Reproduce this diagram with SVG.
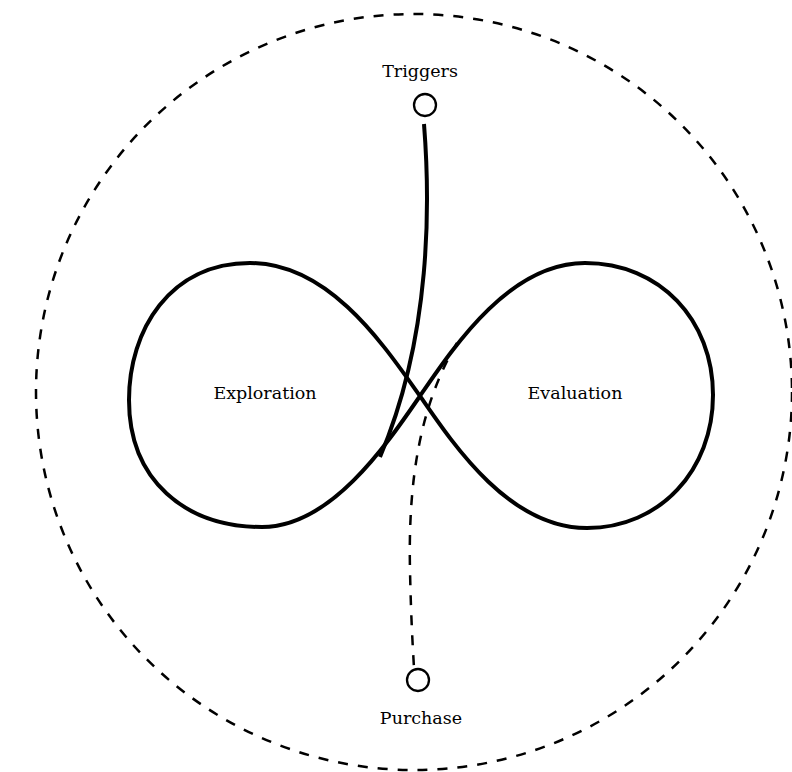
<svg xmlns="http://www.w3.org/2000/svg" width="792" height="772" viewBox="0 0 792 772">
<style>
.lbl{font-family:"DejaVu Serif","Liberation Serif",serif;font-size:17.5px;fill:#000;text-anchor:middle}
.solid{fill:none;stroke:#000;stroke-width:4;stroke-linecap:butt;stroke-linejoin:round}
.dash{fill:none;stroke:#000;stroke-width:2.5;stroke-dasharray:10 10}
.node{fill:#fff;stroke:#000;stroke-width:2.3}
</style>
<rect width="792" height="772" fill="#fff"/>
<g id="boundary">
<circle cx="414" cy="392" r="378" class="dash"/>
</g>
<g id="loop">
<path class="solid" d="M 420 396 C 455 345 510 263 585 263 C 660 263 713 320 713 395 C 713 470 660 528 587 528 C 510 528 455 447 420 396 C 385 347 330 263 250 263 C 170 263 129 330 129 400 C 129 480 185 527 262 527 C 330 527 385 447 420 396 Z"/>
</g>
<g id="connectors">
<path class="solid" d="M 424 124 C 430 200 432 335 380 457"/>
<path class="dash" d="M 457 343 C 420 405 408 480 410 570 C 411 620 413 650 414 668"/>
</g>
<g id="triggers">
<circle cx="425" cy="105" r="11" class="node"/>
<text x="420" y="77" class="lbl">Triggers</text>
</g>
<g id="exploration">
<text x="265" y="399" class="lbl">Exploration</text>
</g>
<g id="evaluation">
<text x="575" y="399" class="lbl">Evaluation</text>
</g>
<g id="purchase">
<circle cx="418" cy="680" r="11" class="node"/>
<text x="421" y="724" class="lbl">Purchase</text>
</g>
</svg>
